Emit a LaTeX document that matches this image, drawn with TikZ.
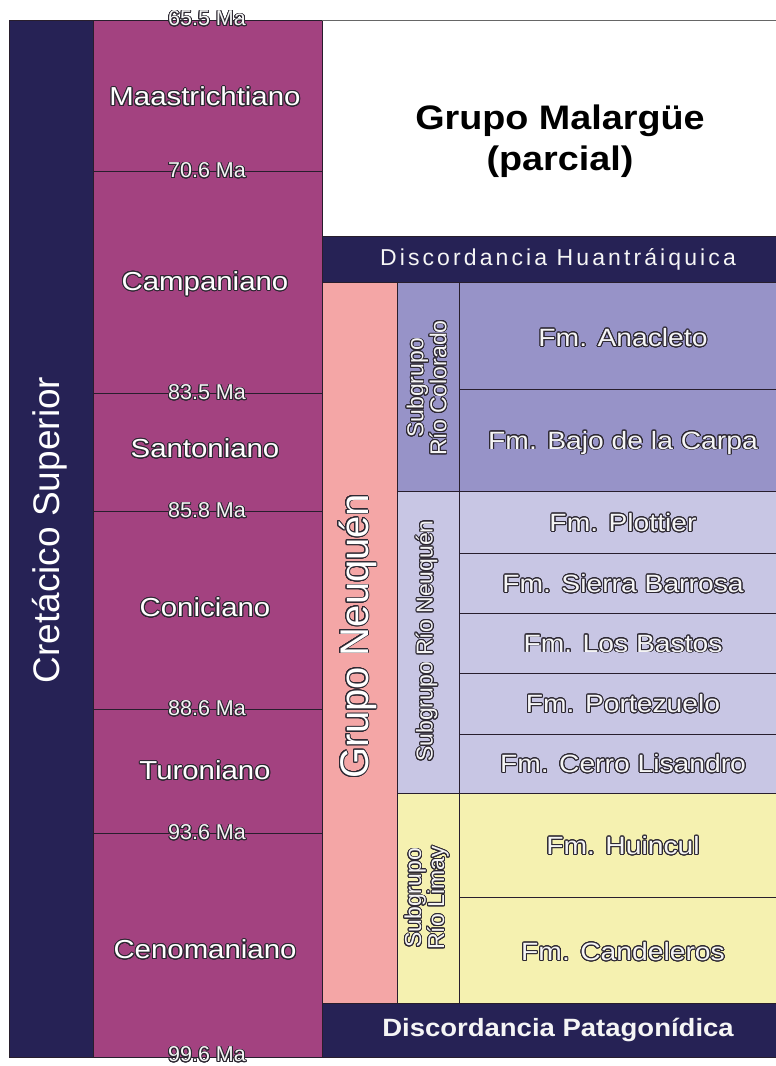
\documentclass[tikz,border=0pt]{standalone}
\usepackage{fontspec}
\setmainfont{Liberation Sans}
\usepackage[copies]{contour}
\contournumber{24}
\contourlength{0.9pt}
\definecolor{navy}{RGB}{38,34,85}
\definecolor{stagec}{RGB}{163,66,128}
\definecolor{pinkc}{RGB}{244,166,166}
\definecolor{colc}{RGB}{151,147,200}
\definecolor{neuc}{RGB}{200,198,228}
\definecolor{limc}{RGB}{245,241,176}
\definecolor{linec}{RGB}{40,30,45}
\definecolor{olc}{RGB}{45,40,50}
\definecolor{txc}{RGB}{245,245,245}
\newcommand\olt[1]{\contour{olc}{#1}}
\tikzset{
  cell/.style={draw=linec, line width=0.8pt},
  malabel/.style={text=txc, font=\fontsize{21.5}{24}\selectfont, inner sep=0pt},
  stagelabel/.style={text=white, font=\fontsize{26}{28}\selectfont, inner sep=0pt, xscale=1.13},
  fmlabel/.style={text=txc, font=\fontsize{25}{28}\selectfont, inner sep=0pt, xscale=1.13},
  sublabel/.style={text=txc, font=\fontsize{23}{23}\selectfont, inner sep=0pt, rotate=90, align=center},
  disclabel/.style={text=txc, inner sep=0pt},
}
\begin{document}
\begin{tikzpicture}[x=1pt,y=-1pt]
\useasboundingbox (0,0) rectangle (776,1066);
\fill[white] (0,0) rectangle (776,1066);
% left column
\draw[cell, fill=navy] (9,20) rectangle (93,1057);
% stages
\draw[cell, fill=stagec] (93,20) rectangle (322,171);
\draw[cell, fill=stagec] (93,171) rectangle (322,393);
\draw[cell, fill=stagec] (93,393) rectangle (322,511);
\draw[cell, fill=stagec] (93,511) rectangle (322,709);
\draw[cell, fill=stagec] (93,709) rectangle (322,833);
\draw[cell, fill=stagec] (93,833) rectangle (322,1057);
% top line
\draw[draw=gray!80!black, line width=0.8pt] (322,20) -- (776,20);
% discordancias
\draw[cell, fill=navy] (322,236) rectangle (776,282);
\draw[cell, fill=navy] (322,1003) rectangle (776,1057);
% grupo neuquen
\draw[cell, fill=pinkc] (322,282) rectangle (397,1003);
% rio colorado
\draw[cell, fill=colc] (397,282) rectangle (459,491);
\draw[cell, fill=colc] (459,282) rectangle (776,389);
\draw[cell, fill=colc] (459,389) rectangle (776,491);
% rio neuquen
\draw[cell, fill=neuc] (397,491) rectangle (459,793);
\draw[cell, fill=neuc] (459,491) rectangle (776,553);
\draw[cell, fill=neuc] (459,553) rectangle (776,613);
\draw[cell, fill=neuc] (459,613) rectangle (776,673);
\draw[cell, fill=neuc] (459,673) rectangle (776,734);
\draw[cell, fill=neuc] (459,734) rectangle (776,793);
% rio limay
\draw[cell, fill=limc] (397,793) rectangle (459,1003);
\draw[cell, fill=limc] (459,793) rectangle (776,897);
\draw[cell, fill=limc] (459,897) rectangle (776,1003);

% texts
\node[text=white, rotate=90, inner sep=0pt, font=\fontsize{37}{40}\selectfont] (cret) at (50,530) {Cretácico Superior};
\node[text=white, rotate=90, inner sep=0pt, font=\fontsize{40}{42}\selectfont] (gneu) at (358,636) {\olt{Grupo Neuquén}};
\node[align=center, inner sep=0pt, xscale=1.11, font=\bfseries\fontsize{34}{41}\selectfont] (malar) at (560,141) {Grupo Malargüe\\(parcial)};
\node[disclabel, font=\fontsize{23}{26}\selectfont\addfontfeature{LetterSpace=13.5}] (dhua) at (558,259) {Discordancia Huantráiquica};
\node[disclabel, xscale=1.1, font=\bfseries\fontsize{25}{26}\selectfont] (dpat) at (558,1030) {Discordancia Patagonídica};

\node[malabel] (m655) at (207,19) {\olt{65.5 Ma}};
\node[malabel] (m706) at (207,171) {\olt{70.6 Ma}};
\node[malabel] (m835) at (207,393) {\olt{83.5 Ma}};
\node[malabel] (m858) at (207,511) {\olt{85.8 Ma}};
\node[malabel] (m886) at (207,709) {\olt{88.6 Ma}};
\node[malabel] (m936) at (207,833) {\olt{93.6 Ma}};
\node[malabel] (m996) at (207,1055) {\olt{99.6 Ma}};

\node[stagelabel] (maas) at (205,97) {\olt{Maastrichtiano}};
\node[stagelabel] (camp) at (205,284) {\olt{Campaniano}};
\node[stagelabel] (sant) at (205,449) {\olt{Santoniano}};
\node[stagelabel] (coni) at (205,608) {\olt{Coniciano}};
\node[stagelabel] (turo) at (205,771) {\olt{Turoniano}};
\node[stagelabel] (ceno) at (205,950) {\olt{Cenomaniano}};

\node[sublabel] (sc) at (427,388) {\olt{Subgrupo}\\\olt{Río Colorado}};
\node[sublabel] (sn) at (427,641) {\olt{Subgrupo Río Neuquén}};
\node[sublabel] (sl) at (427,898) {\olt{Subgrupo}\\\olt{Río Limay}};

\node[fmlabel] (fan) at (623,338) {\olt{Fm. Anacleto}};
\node[fmlabel] (fbc) at (623,443) {\olt{Fm. Bajo de la Carpa}};
\node[fmlabel] (fpl) at (623,523) {\olt{Fm. Plottier}};
\node[fmlabel] (fsb) at (623,584) {\olt{Fm. Sierra Barrosa}};
\node[fmlabel] (flb) at (623,644) {\olt{Fm. Los Bastos}};
\node[fmlabel] (fpo) at (623,704) {\olt{Fm. Portezuelo}};
\node[fmlabel] (fcl) at (623,764) {\olt{Fm. Cerro Lisandro}};
\node[fmlabel] (fhu) at (623,846) {\olt{Fm. Huincul}};
\node[fmlabel] (fca) at (623,952) {\olt{Fm. Candeleros}};
\end{tikzpicture}
\end{document}
